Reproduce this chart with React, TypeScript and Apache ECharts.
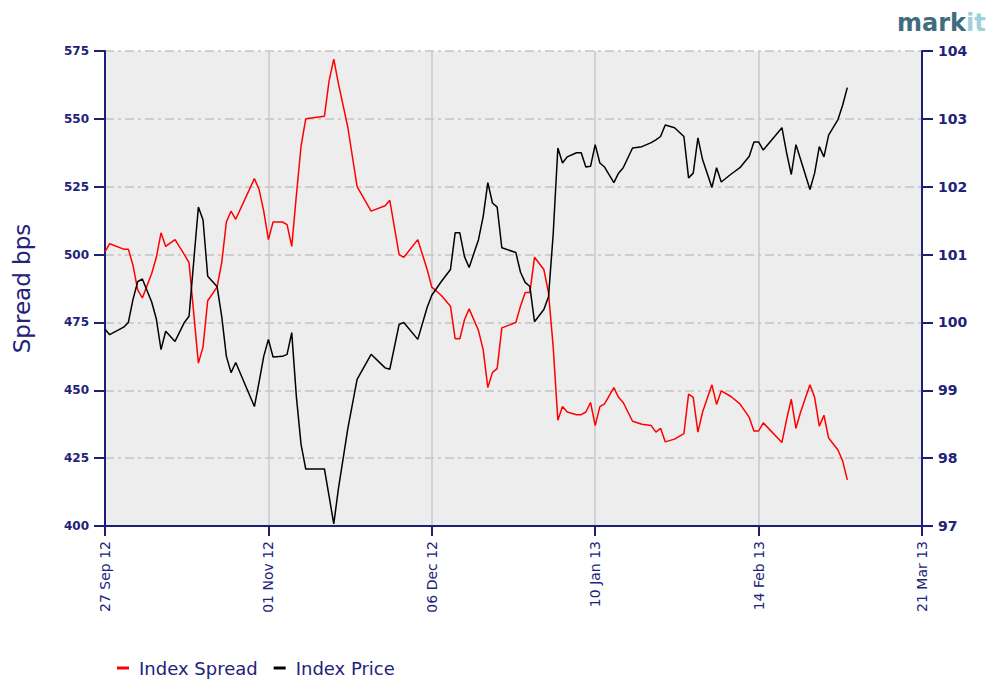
import React, { useEffect, useRef } from "react";
import * as echarts from "echarts";

const dates = [
  "2012-09-27","2012-09-28","2012-10-01","2012-10-02","2012-10-03","2012-10-04","2012-10-05","2012-10-07","2012-10-08","2012-10-09",
  "2012-10-10","2012-10-12","2012-10-14","2012-10-15","2012-10-17","2012-10-18","2012-10-19","2012-10-21","2012-10-22","2012-10-23",
  "2012-10-24","2012-10-25","2012-10-29","2012-10-30","2012-10-31","2012-11-01","2012-11-02","2012-11-04","2012-11-05","2012-11-06",
  "2012-11-07","2012-11-08","2012-11-09","2012-11-13","2012-11-14","2012-11-15","2012-11-16","2012-11-18","2012-11-20","2012-11-23",
  "2012-11-26","2012-11-27","2012-11-29","2012-11-30","2012-12-03","2012-12-05","2012-12-06","2012-12-08","2012-12-10","2012-12-11",
  "2012-12-12","2012-12-13","2012-12-14","2012-12-16","2012-12-17","2012-12-18","2012-12-19","2012-12-20","2012-12-21","2012-12-24",
  "2012-12-25","2012-12-26","2012-12-27","2012-12-28","2012-12-30","2012-12-31","2013-01-01","2013-01-02","2013-01-03","2013-01-04",
  "2013-01-06","2013-01-07","2013-01-08","2013-01-09","2013-01-10","2013-01-11","2013-01-12","2013-01-14","2013-01-15","2013-01-16",
  "2013-01-18","2013-01-20","2013-01-22","2013-01-23","2013-01-24","2013-01-25","2013-01-27","2013-01-29","2013-01-30","2013-01-31",
  "2013-02-01","2013-02-02","2013-02-04","2013-02-05","2013-02-06","2013-02-08","2013-02-10","2013-02-12","2013-02-13","2013-02-14",
  "2013-02-15","2013-02-19","2013-02-20","2013-02-21","2013-02-22","2013-02-23","2013-02-25","2013-02-26","2013-02-27","2013-02-28",
  "2013-03-01","2013-03-03","2013-03-04","2013-03-05"
];

const indexSpread = [
  501,504,502,502,496,487,484,493,499,508,
  503,505.5,500,497,460,466,483,488,497,512,
  516,513,528,524,516,505.5,512,512,511,503,
  522,540,550,551,564,572,563,547,525,516,
  518,520,500,499,505.5,494.5,488,485,481,469,
  469,476,480,472,465,451,456.6,458,473,475,
  481,486,486,499,494.5,486,466,439,444,442,
  441,441,442,445.5,437,444,445,451,447.4,445.5,
  438.6,437.5,437,434.6,436,431,432,434,448.6,447.4,
  434.6,442,452,444.8,449.8,447.8,445,440,435,435,
  438,430.8,439.3,446.7,436,442,452,447.4,436.8,440.8,
  432.4,428,424,417
];

const indexPrice = [
  99.9,99.82,99.93,100.0,100.34,100.6,100.64,100.3,100.05,99.6,
  99.87,99.72,100.0,100.09,101.7,101.51,100.68,100.53,100.09,99.5,
  99.26,99.41,98.76,99.12,99.5,99.75,99.49,99.5,99.53,99.85,
  98.9,98.2,97.84,97.84,97.44,97.03,97.55,98.43,99.16,99.53,
  99.33,99.31,99.97,100.0,99.75,100.22,100.4,100.6,100.78,101.32,
  101.32,100.97,100.81,101.22,101.56,102.06,101.76,101.7,101.1,101.03,
  100.74,100.59,100.53,100.01,100.19,100.38,101.3,102.57,102.35,102.44,
  102.5,102.5,102.29,102.3,102.62,102.35,102.29,102.06,102.2,102.28,
  102.57,102.59,102.65,102.69,102.74,102.91,102.87,102.74,102.13,102.2,
  102.72,102.4,101.99,102.28,102.07,102.18,102.28,102.45,102.66,102.66,
  102.54,102.87,102.5,102.18,102.62,102.4,101.96,102.2,102.59,102.44,
  102.76,102.99,103.2,103.46
];

const xStart = "2012-09-27";
const xEnd = "2013-03-21";
const tickDays = 35;
const spreadMin = 400, spreadMax = 575, spreadStep = 25;
const priceMin = 97, priceMax = 104, priceStep = 1;

const MONTHS = ["Jan","Feb","Mar","Apr","May","Jun","Jul","Aug","Sep","Oct","Nov","Dec"];
const DAY = 86400000;
const ts = (d: string) => {
  const [y, m, dd] = d.split("-").map(Number);
  return Date.UTC(y, m - 1, dd);
};
const fmt = (v: number) => {
  const d = new Date(v);
  const dd = String(d.getUTCDate()).padStart(2, "0");
  const yy = String(d.getUTCFullYear() % 100).padStart(2, "0");
  return `${dd} ${MONTHS[d.getUTCMonth()]} ${yy}`;
};

const NAVY = "#22227a";
const AXIS = "#1e1e78";

export default function App() {
  const ref = useRef<HTMLDivElement>(null);
  useEffect(() => {
    if (!ref.current) return;
    const chart = echarts.init(ref.current, null, { renderer: "svg" });
    const spreadData = dates.map((d, i) => [ts(d), indexSpread[i]]);
    const priceData = dates.map((d, i) => [ts(d), indexPrice[i]]);
    chart.setOption({
      animation: false,
      backgroundColor: "#ffffff",
      textStyle: { fontFamily: "DejaVu Sans" },
      grid: {
        left: 105, right: 73, top: 51, bottom: 156,
        show: true, backgroundColor: "#ededed", borderWidth: 0,
      },
      legend: {
        left: 112, top: 654,
        itemWidth: 12, itemHeight: 3, itemGap: 16,
        icon: "rect",
        textStyle: { color: NAVY, fontSize: 18, fontFamily: "DejaVu Sans", padding: [0, 0, 0, 5] },
        data: ["Index Spread", "Index Price"],
      },
      graphic: [
        { type: "text", left: 897, top: 11, style: { text: "mark", fill: "#3e6d7d", font: "bold 24px DejaVu Sans" } },
        { type: "text", left: 966, top: 11, style: { text: "it", fill: "#9fd0dc", font: "bold 24px DejaVu Sans" } },
      ],
      xAxis: {
        type: "value",
        min: ts(xStart), max: ts(xEnd), interval: tickDays * DAY,
        axisLine: { lineStyle: { color: AXIS, width: 2 } },
        axisTick: { show: true, length: 10, lineStyle: { color: AXIS, width: 2 } },
        axisLabel: { rotate: 90, color: NAVY, fontSize: 14, margin: 15, formatter: (v: number) => fmt(v), showMinLabel: true, showMaxLabel: true },
        splitLine: { show: true, lineStyle: { color: "#c8c8c8", width: 1.5, type: "solid" } },
      },
      yAxis: [
        {
          type: "value", min: spreadMin, max: spreadMax, interval: spreadStep,
          name: "Spread bps", nameLocation: "middle", nameGap: 72,
          nameTextStyle: { color: NAVY, fontSize: 23 },
          axisLine: { show: true, lineStyle: { color: AXIS, width: 2 } },
          axisTick: { show: true, length: 11, lineStyle: { color: AXIS, width: 2 } },
          axisLabel: { color: NAVY, fontSize: 12, fontWeight: "bold", margin: 16 },
          splitLine: { show: true, lineStyle: { color: "#c4c4c4", width: 1.5, type: [9, 4, 3, 4] } },
        },
        {
          type: "value", min: priceMin, max: priceMax, interval: priceStep, position: "right",
          axisLine: { show: true, lineStyle: { color: AXIS, width: 2 } },
          axisTick: { show: true, length: 11, lineStyle: { color: AXIS, width: 2 } },
          axisLabel: { color: NAVY, fontSize: 14, fontWeight: "bold", margin: 16 },
          splitLine: { show: false },
        },
      ],
      series: [
        {
          name: "Index Spread", type: "line", yAxisIndex: 0, data: spreadData,
          showSymbol: false, symbol: "none", color: "#ff0000",
          lineStyle: { color: "#ff0000", width: 1.5 },
        },
        {
          name: "Index Price", type: "line", yAxisIndex: 1, data: priceData,
          showSymbol: false, symbol: "none", color: "#000000",
          lineStyle: { color: "#000000", width: 1.5 },
        },
      ],
    });
    return () => chart.dispose();
  }, []);
  return <div ref={ref} style={{ width: 995, height: 682, position: "absolute", left: 0, top: 0 }} />;
}
